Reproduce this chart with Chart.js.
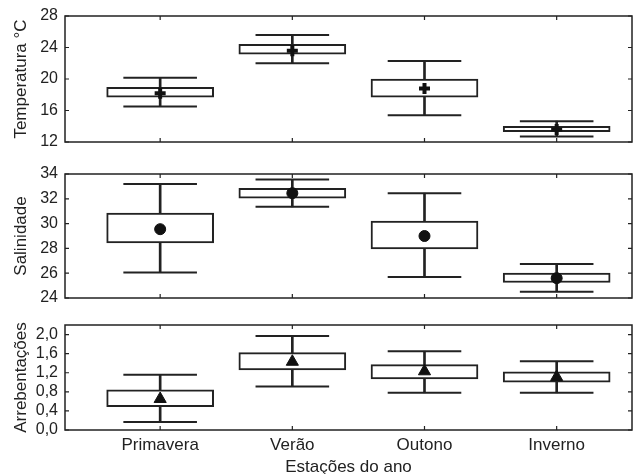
<!DOCTYPE html>
<html>
<head>
<meta charset="utf-8">
<script src="https://cdn.jsdelivr.net/npm/chart.js@4.4.1/dist/chart.umd.min.js"></script>
<style>
  html, body { margin: 0; padding: 0; background: #fff; overflow: hidden; }
  .panel { position: absolute; left: 0; width: 640px; }
</style>
</head>
<body>
<div class="panel" style="top:0;height:152px"><canvas id="temp"></canvas></div>
<div class="panel" style="top:160px;height:148px"><canvas id="sal"></canvas></div>
<div class="panel" style="top:310px;height:164px"><canvas id="arr"></canvas></div>
<script>
const seasons = ["Primavera", "Verão", "Outono", "Inverno"];

// Temperatura °C
const tempMin = [16.5, 22.0, 15.4, 12.7];
const tempQ1 = [17.7, 23.15, 17.7, 13.3];
const tempQ3 = [18.95, 24.4, 20.0, 14.0];
const tempMax = [20.15, 25.6, 22.3, 14.65];
const tempMean = [18.2, 23.6, 18.8, 13.6];

// Salinidade
const salMin = [26.05, 31.35, 25.7, 24.5];
const salQ1 = [28.45, 32.05, 27.95, 25.25];
const salQ3 = [30.85, 32.85, 30.2, 26.0];
const salMax = [33.2, 33.55, 32.45, 26.75];
const salMean = [29.55, 32.45, 29.0, 25.6];

// Arrebentações
const arrMin = [0.17, 0.91, 0.78, 0.78];
const arrQ1 = [0.49, 1.26, 1.07, 1.0];
const arrQ3 = [0.84, 1.62, 1.37, 1.22];
const arrMax = [1.16, 1.97, 1.65, 1.44];
const arrMean = [0.65, 1.43, 1.23, 1.11];

const INK = "#222";
const FONT = "'Liberation Sans', Arial, sans-serif";

// frame round the plot area with small inward ticks on all four sides
const framePlugin = {
  id: "frame",
  afterDatasetsDraw(chart) {
    const { ctx, chartArea: a, scales } = chart;
    ctx.save();
    ctx.strokeStyle = INK;
    ctx.lineWidth = 1.5;
    ctx.strokeRect(a.left, a.top, a.right - a.left, a.bottom - a.top);
    ctx.lineWidth = 1.2;
    ctx.beginPath();
    scales.y.ticks.forEach((t) => {
      const py = scales.y.getPixelForValue(t.value);
      ctx.moveTo(a.left, py);
      ctx.lineTo(a.left + 4, py);
      ctx.moveTo(a.right, py);
      ctx.lineTo(a.right - 4, py);
    });
    seasons.forEach((s, i) => {
      const px = scales.x.getPixelForValue(i + 1);
      ctx.moveTo(px, a.top);
      ctx.lineTo(px, a.top + 4);
      ctx.moveTo(px, a.bottom);
      ctx.lineTo(px, a.bottom - 4);
    });
    ctx.stroke();
    ctx.restore();
  },
};

function boxDatasets(min, q1, q3, max, mean, marker) {
  return [
    {
      type: "scatter",
      data: mean.map((v, i) => ({ x: i + 1, y: v })),
      pointStyle: marker.style,
      pointRadius: marker.radius,
      backgroundColor: "#111",
      borderColor: "#111",
      borderWidth: marker.border,
      order: 0,
    },
    {
      // whisker caps
      type: "scatter",
      data: min.map((v, i) => ({ x: i + 1, y: v })).concat(max.map((v, i) => ({ x: i + 1, y: v }))),
      pointStyle: "line",
      pointRadius: 36.8,
      borderColor: INK,
      borderWidth: 2,
      order: 1,
    },
    {
      // box
      type: "bar",
      data: q1.map((v, i) => ({ x: i + 1, y: [v, q3[i]] })),
      backgroundColor: "#fff",
      borderColor: INK,
      borderWidth: 2,
      borderSkipped: false,
      barThickness: 107,
      grouped: false,
      order: 2,
    },
    {
      // whisker stem
      type: "bar",
      data: min.map((v, i) => ({ x: i + 1, y: [v, max[i]] })),
      backgroundColor: INK,
      borderWidth: 0,
      barThickness: 2,
      grouped: false,
      order: 3,
    },
  ];
}

function makePanel(id, opts) {
  const showX = !!opts.showX;
  new Chart(document.getElementById(id), {
    type: "bar",
    data: { datasets: boxDatasets(opts.min, opts.q1, opts.q3, opts.max, opts.mean, opts.marker) },
    options: {
      responsive: true,
      maintainAspectRatio: false,
      animation: false,
      layout: {
        autoPadding: false,
        padding: { top: opts.padTop, bottom: opts.padBottom, left: 0, right: 8 },
      },
      plugins: { legend: { display: false }, tooltip: { enabled: false } },
      scales: {
        x: {
          type: "linear",
          min: 0.28,
          max: 4.57,
          offset: false,
          display: showX,
          grid: { display: false, drawTicks: false, offset: false },
          border: { display: false },
          afterBuildTicks: (s) => {
            s.ticks = seasons.map((_, i) => ({ value: i + 1 }));
          },
          afterFit: (s) => {
            if (showX) s.height = 44;
            s.paddingLeft = 0;
            s.paddingRight = 0;
          },
          ticks: {
            padding: 5,
            color: INK,
            font: { family: FONT, size: 17 },
            callback: (v) => seasons[Math.round(v) - 1] || "",
          },
          title: {
            display: showX,
            text: "Estações do ano",
            color: INK,
            font: { family: FONT, size: 17 },
            padding: { top: 0, bottom: -4 },
          },
        },
        y: {
          min: opts.yMin,
          max: opts.yMax,
          afterFit: (s) => {
            s.width = 65;
            s.paddingTop = 0;
            s.paddingBottom = 0;
          },
          grid: { display: false, drawTicks: false },
          border: { display: false },
          ticks: {
            stepSize: opts.step,
            includeBounds: false,
            autoSkip: false,
            padding: 7,
            color: INK,
            font: { family: FONT, size: 16 },
            callback: opts.fmt || ((v) => v),
          },
          title: {
            display: true,
            text: opts.title,
            color: INK,
            font: { family: FONT, size: 17 },
            padding: { top: 11, bottom: 0 },
          },
        },
      },
    },
    plugins: [framePlugin],
  });
}

makePanel("temp", {
  min: tempMin, q1: tempQ1, q3: tempQ3, max: tempMax, mean: tempMean,
  marker: { style: "cross", radius: 5.5, border: 4 },
  yMin: 12, yMax: 28, step: 4, title: "Temperatura °C",
  padTop: 16, padBottom: 10,
});

makePanel("sal", {
  min: salMin, q1: salQ1, q3: salQ3, max: salMax, mean: salMean,
  marker: { style: "circle", radius: 5.5, border: 1 },
  yMin: 24, yMax: 34, step: 2, title: "Salinidade",
  padTop: 14, padBottom: 10,
});

makePanel("arr", {
  min: arrMin, q1: arrQ1, q3: arrQ3, max: arrMax, mean: arrMean,
  marker: { style: "triangle", radius: 7, border: 1 },
  yMin: 0, yMax: 2.2, step: 0.4, title: "Arrebentações",
  fmt: (v) => v.toFixed(1).replace(".", ","),
  padTop: 15, padBottom: 0, showX: true,
});
</script>
</body>
</html>
